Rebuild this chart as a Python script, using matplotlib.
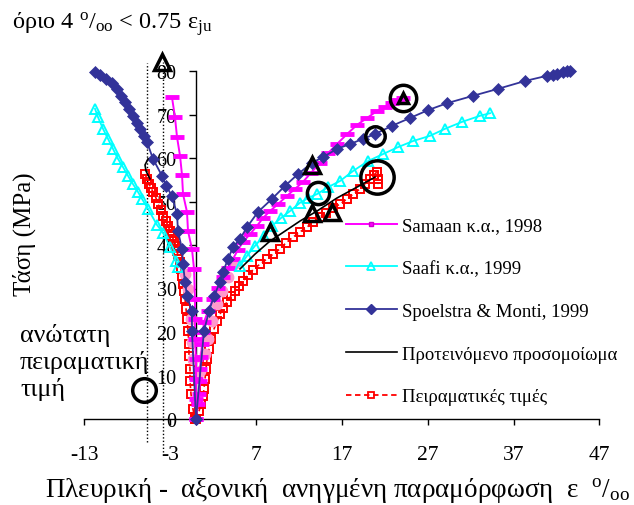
import matplotlib
matplotlib.use("Agg")
import matplotlib.pyplot as plt
from matplotlib.lines import Line2D

plt.rcParams['font.family'] = 'serif'
plt.rcParams['font.serif'] = ['Liberation Serif', 'DejaVu Serif']
plt.rcParams['mathtext.fontset'] = 'custom'
plt.rcParams['mathtext.rm'] = 'Liberation Serif'
plt.rcParams['mathtext.it'] = 'Liberation Serif:italic'
plt.rcParams['axes.unicode_minus'] = False

# ---------------- data (strain in per mille, stress in MPa) ----------------
x_ticks = [-13, -3, 7, 17, 27, 37, 47]
y_ticks = [0, 10, 20, 30, 40, 50, 60, 70, 80]

labels = ["Samaan κ.α., 1998", "Saafi κ.α., 1999", "Spoelstra & Monti, 1999",
          "Προτεινόμενο προσομοίωμα", "Πειραματικές τιμές"]

# Samaan et al. 1998 (magenta)
samaan_lat_x = [-2.80, -2.45, -2.21, -1.86, -1.63, -1.51, -1.05, -0.93, -0.47, -0.23, -0.12, -0.12, -0.12, 0.0, 0.0, 0.0, 0.0]
samaan_lat_y = [74.0, 69.4, 64.8, 60.5, 56.1, 51.7, 47.6, 43.2, 39.1, 34.5, 27.6, 23.0, 18.4, 13.8, 9.2, 4.6, 0.0]
samaan_ax_x = [0.0, 0.23, 0.35, 0.47, 0.47, 0.58, 0.70, 0.82, 0.93, 1.40, 1.98, 2.56, 3.15, 3.73, 4.31, 4.89,
               5.47, 6.29, 7.11, 7.80, 8.62, 9.55, 10.60, 11.53, 12.46, 13.40, 14.44, 15.38, 16.42, 17.59,
               18.75, 19.92, 21.08, 22.02, 22.83, 23.53, 24.11]
samaan_ax_y = [0.0, 3.4, 5.7, 8.7, 11.5, 14.3, 17.2, 20.0, 22.3, 24.8, 27.6, 30.1, 32.6, 34.7, 36.8, 38.9,
               40.7, 42.5, 44.4, 46.2, 47.8, 49.4, 51.3, 52.9, 54.5, 56.6, 58.9, 61.1, 63.2, 65.5,
               67.6, 69.2, 70.8, 71.7, 72.6, 73.3, 73.8]

# Saafi et al. 1999 (cyan)
saafi_lat_x = [-11.76, -11.42, -10.83, -10.25, -9.67, -9.09, -8.50, -7.92, -7.34, -6.76, -6.29, -5.59, -4.54, -3.84, -3.03, -2.33, -2.10]
saafi_lat_y = [71.3, 69.4, 66.7, 64.4, 62.1, 59.8, 57.9, 55.9, 54.0, 52.2, 50.6, 48.3, 44.6, 42.8, 39.5, 36.3, 34.9]
saafi_ax_x = [5.13, 5.94, 6.87, 7.92, 8.85, 9.90, 10.95, 12.11, 13.05, 14.09, 15.38, 16.77, 18.29, 20.04,
              21.78, 23.53, 25.28, 27.26, 29.00, 30.98, 33.08, 34.25]
saafi_ax_y = [35.2, 37.5, 39.8, 42.1, 44.4, 46.2, 47.8, 49.7, 50.8, 51.7, 53.3, 54.7, 57.0, 59.3,
              60.9, 62.5, 63.9, 65.1, 66.7, 68.3, 69.7, 70.3]

# Spoelstra & Monti 1999 (navy)
spoel_lat_x = [-11.76, -11.18, -10.48, -9.78, -9.20, -8.74, -8.27, -7.80, -7.34, -6.87, -6.52, -6.06, -5.71,
               -5.01, -3.96, -3.49, -2.80, -2.21, -2.10, -1.63, -1.51, -1.28, -1.05, -0.47, -0.47, 0.0]
spoel_lat_y = [79.8, 79.1, 78.2, 77.2, 75.9, 74.3, 72.9, 71.3, 69.7, 68.0, 66.7, 65.1, 63.7,
               59.8, 55.9, 53.6, 51.3, 47.1, 43.2, 39.1, 35.6, 31.5, 28.3, 24.8, 20.2, 0.0]
spoel_ax_x = [0.0, 0.93, 1.51, 2.10, 2.80, 3.15, 3.73, 4.31, 5.13, 5.94, 7.22, 8.85, 10.37, 11.88, 13.51,
              14.79, 16.42, 17.94, 19.45, 20.85, 22.83, 24.93, 27.02, 29.24, 32.27, 35.18, 38.32,
              40.88, 41.58, 42.05, 42.75, 43.22, 43.56]
spoel_ax_y = [0.0, 20.2, 24.8, 28.3, 31.5, 33.8, 36.8, 39.5, 41.4, 44.1, 47.6, 50.6, 53.6, 56.3, 58.9,
              60.2, 62.1, 63.2, 64.4, 65.5, 67.4, 69.2, 71.0, 72.6, 74.3, 75.9, 77.7,
              78.9, 79.1, 79.3, 79.8, 80.0, 80.0]

# Proposed model (black)
prop_lat_x = [-5.59, -5.94, -5.82, -5.36]
prop_lat_y = [59.8, 58.4, 57.0, 55.2]
prop_ax_x = [5.13, 6.87, 8.62, 10.37, 12.11, 14.09, 16.42, 18.75, 20.85]
prop_ax_y = [34.5, 37.9, 40.9, 43.2, 45.5, 47.8, 50.8, 53.3, 55.6]

# Experimental values (red)
exp_lat_x = [-5.94, -5.71, -5.47, -5.24, -5.01, -4.66, -4.43, -4.08, -3.84, -3.49, -3.26, -3.03, -2.80,
             -2.56, -2.33, -2.21, -2.10, -1.86, -1.75, -1.63, -1.51, -1.40, -1.28, -1.16, -1.05, -0.93,
             -0.82, -0.82, -0.70, -0.70, -0.58, -0.35, -0.12]
exp_lat_y = [56.3, 55.2, 54.0, 53.1, 52.2, 50.8, 49.4, 48.0, 46.7, 45.5, 44.4, 43.2, 42.1,
             40.9, 39.8, 38.6, 37.5, 36.1, 34.5, 32.9, 31.0, 29.4, 27.6, 25.3, 23.0, 20.2,
             17.2, 14.5, 11.5, 8.7, 5.7, 2.3, 0.0]
exp_ax_x = [0.00, 0.35, 0.58, 0.82, 0.93, 1.05, 1.16, 1.28, 1.51, 1.75, 2.10, 2.45, 2.80, 3.15, 3.61,
            4.08, 4.54, 5.01, 5.47, 6.06, 6.64, 7.45, 8.27, 8.97, 9.78, 10.48, 11.30, 12.11, 12.93,
            13.63, 14.44, 15.14, 15.96, 16.77, 17.59, 18.29, 19.10, 19.69, 20.27, 20.73, 21.08, 21.20, 21.20]
exp_ax_y = [0.0, 1.8, 3.4, 5.3, 6.9, 9.2, 11.5, 13.8, 16.1, 18.4, 20.7, 22.5, 24.1, 25.5, 26.9,
            28.3, 29.4, 30.6, 31.7, 33.1, 34.3, 35.6, 36.8, 37.9, 39.1, 40.5, 41.8, 43.0, 44.1,
            45.3, 46.4, 47.4, 48.5, 49.4, 50.6, 51.7, 52.9, 54.0, 55.2, 56.1, 56.8, 55.2, 54.0]

# additional pink-circle points near the origin
pink_lat_x = [-1.28, -0.93, -0.58, -0.47, -0.35]
pink_lat_y = [33.3, 29.9, 23.0, 17.7, 13.8]
pink_ax_x = [0.47, 1.05, 1.40, 1.86, 2.45, 3.03, 3.73, 4.43]
pink_ax_y = [11.0, 14.9, 18.4, 22.5, 26.4, 29.4, 32.6, 35.6]

# key points: 4 per mille limit (triangles) and max experimental value (circles)
tri_x = [-4.0, 24.11, 13.51, 8.62, 13.51, 15.84]
tri_y = [82.1, 73.8, 58.4, 43.0, 47.4, 47.6]
circ_x = [24.11, 20.85, 21.08, 14.21, -6.06]
circ_y = [73.8, 65.1, 55.6, 52.0, 6.7]

# dotted reference lines (lateral strain)
limit_x = [-5.72, -3.88]
limit_y0 = [-5.3, -7.6]
limit_y1 = [81.8, 82.0]

# ---------------- styling / layout ----------------
tri_ms = [12, 7.5, 12, 12, 12, 12]
circ_ms = [19, 14, 24, 16, 17]

W, H = 634, 506
fig = plt.figure(figsize=(W / 100, H / 100), dpi=100)
fig.patch.set_facecolor('white')
X0_PX, X_SCALE = 196.0, 8.585
Y0_PX, Y_SCALE = 420.0, 4.35
L, R, T, B = 40, 620, 45, 445
ax = fig.add_axes([L / W, (H - B) / H, (R - L) / W, (B - T) / H])
ax.set_xlim((L - X0_PX) / X_SCALE, (R - X0_PX) / X_SCALE)
ax.set_ylim((Y0_PX - B) / Y_SCALE, (Y0_PX - T) / Y_SCALE)
ax.patch.set_alpha(0)

for s in ('top', 'right'):
    ax.spines[s].set_visible(False)
ax.spines['left'].set_position(('data', 0))
ax.spines['left'].set_bounds(0, 80)
ax.spines['bottom'].set_position(('data', 0))
ax.spines['bottom'].set_bounds(-13, 47)
for s in ('left', 'bottom'):
    ax.spines[s].set_linewidth(1.0)
ax.set_xticks(x_ticks)
ax.set_xticklabels([str(t) for t in x_ticks])
ax.set_yticks(y_ticks)
ax.set_yticklabels([str(t) for t in y_ticks])
ax.tick_params(axis='x', direction='out', length=4.5, width=1, pad=14, labelsize=15.5)
ax.tick_params(axis='y', direction='out', length=5, width=1, pad=9, labelsize=14.5)

MAG, CYA, NAV, RED, PNK = '#FF00FF', '#00FFFF', '#333399', '#FF0000', '#FF99CC'

# dotted lines
for x, a, b in zip(limit_x, limit_y0, limit_y1):
    ax.vlines(x, a, b, colors='black', linestyles=(0, (1, 1.5)), lw=1.0, clip_on=False, zorder=1)

# experimental
for xs, ys in ((exp_lat_x, exp_lat_y), (exp_ax_x, exp_ax_y)):
    ax.plot(xs, ys, color=RED, ls=(0, (3, 2)), lw=1.2, marker='s', ms=5.5, mfc='none',
            mec=RED, mew=1.4, clip_on=False, zorder=2)
# pink
for xs, ys in ((pink_lat_x, pink_lat_y), (pink_ax_x, pink_ax_y)):
    ax.plot(xs, ys, ls='none', marker='o', ms=7.5, color=PNK, mec=PNK, clip_on=False, zorder=3)
# Samaan
for xs, ys in ((samaan_lat_x, samaan_lat_y), (samaan_ax_x, samaan_ax_y)):
    ax.plot(xs, ys, color=MAG, lw=1.4, marker='_', ms=10.5, mew=3.5, clip_on=False, zorder=4)
# Saafi
for xs, ys in ((saafi_lat_x, saafi_lat_y), (saafi_ax_x, saafi_ax_y)):
    ax.plot(xs, ys, color=CYA, lw=1.3, marker='^', ms=7.5, mfc='none', mec=CYA, mew=1.4,
            clip_on=False, zorder=5)
# Spoelstra
for xs, ys in ((spoel_lat_x, spoel_lat_y), (spoel_ax_x, spoel_ax_y)):
    ax.plot(xs, ys, color=NAV, lw=1.3, marker='D', ms=6, mec=NAV, mew=0.5, clip_on=False, zorder=6)
# Proposed
for xs, ys in ((prop_lat_x, prop_lat_y), (prop_ax_x, prop_ax_y)):
    ax.plot(xs, ys, color='black', lw=1.2, clip_on=False, zorder=7)

# key markers
for x, y, s in zip(tri_x, tri_y, tri_ms):
    ax.plot([x], [y], ls='none', marker='^', ms=s, mfc='none', mec='black', mew=2.5,
            clip_on=False, zorder=8)
for x, y, s in zip(circ_x, circ_y, circ_ms):
    ax.plot([x], [y], ls='none', marker='o', ms=s, mfc='none', mec='black', mew=2.5,
            clip_on=False, zorder=8)

# legend
handles = [
    Line2D([], [], color=MAG, lw=1.4, marker='s', ms=2.5, mec='#CC00CC'),
    Line2D([], [], color=CYA, lw=1.3, marker='^', ms=5.5, mfc='none', mec=CYA, mew=1.3),
    Line2D([], [], color=NAV, lw=1.3, marker='D', ms=5, mec=NAV),
    Line2D([], [], color='black', lw=1.2),
    Line2D([], [], color=RED, lw=1.3, ls=(0, (3, 2)), marker='s', ms=4.5, mfc='none', mec=RED, mew=1.3),
]
fig.legend(handles, labels, loc='center left', bbox_to_anchor=(345.7 / W, 1 - 312.2 / H),
           frameon=False, fontsize=13.5, handlelength=2.72, handletextpad=0.27,
           labelspacing=1.37, borderpad=0, borderaxespad=0, numpoints=1)

# texts
fig.text(12 / W, 1 - 29 / H, r"όριο 4 $^{\mathrm{o}}$/$_{\mathrm{oo}}$ < 0.75 ε$_{\mathrm{ju}}$",
         fontsize=17.5, va='baseline', ha='left')
fig.text(24 / W, 1 - 234 / H, "Τάση (MPa)", rotation=90, fontsize=18, ha='center', va='center')
fig.text(337 / W, 1 - 497 / H,
         r"Πλευρική -  αξονική  ανηγμένη παραμόρφωση  ε  $^{\mathrm{o}}$/$_{\mathrm{oo}}$",
         fontsize=19.5, ha='center', va='baseline')
for txt, base in (("ανώτατη", 342), ("πειραματική", 369), ("τιμή", 396)):
    fig.text(20 / W, 1 - base / H, txt, fontsize=18.7, ha='left', va='baseline')

fig.savefig("out.png", dpi=100, facecolor='white')
